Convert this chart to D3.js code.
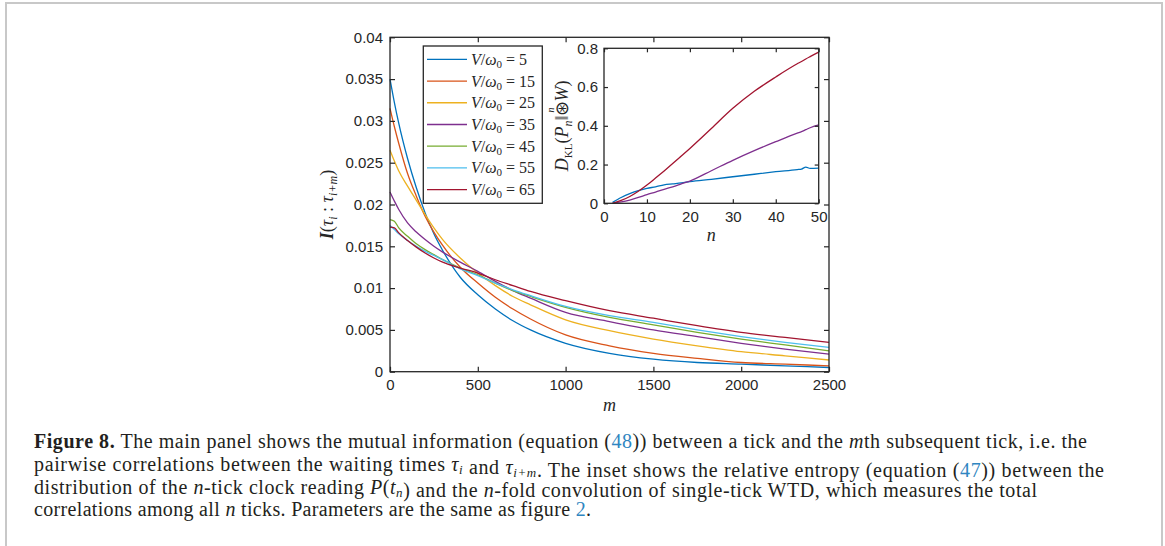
<!DOCTYPE html>
<html>
<head>
<meta charset="utf-8">
<script src="https://cdn.jsdelivr.net/npm/d3@7"></script>
<style>
  body { margin: 0; background: #fff; }
  svg { display: block; }
  .tick text { font-family: "Liberation Sans", Arial, sans-serif; font-size: 15px; fill: #262626; }
  .tick line { stroke: #262626; stroke-width: 1.2; }
</style>
</head>
<body>
<div id="chart"></div>
<script>
// main panel: mutual information vs m
const mValues = [0, 25, 50, 100, 150, 200, 250, 300, 400, 500, 600, 700, 800, 1000, 1250, 1500, 1750, 2000, 2250, 2500];
const seriesLabels = ['5', '15', '25', '35', '45', '55', '65'];
const seriesColors = ['#0072BD', '#D95319', '#EDB120', '#7E2F8E', '#77AC30', '#4DBEEE', '#A2142F'];
const miV5  = [0.0350, 0.0322, 0.0297, 0.0255, 0.0220, 0.0190, 0.0165, 0.0145, 0.0113, 0.0092, 0.0075, 0.0061, 0.0050, 0.0034, 0.0022, 0.0015, 0.0011, 0.0009, 0.0007, 0.0005];
const miV15 = [0.0315, 0.0293, 0.0273, 0.0237, 0.0210, 0.0186, 0.0167, 0.0151, 0.0125, 0.0106, 0.0089, 0.0075, 0.0063, 0.0044, 0.0031, 0.0022, 0.0016, 0.0011, 0.0009, 0.0007];
const miV25 = [0.0265, 0.0252, 0.0240, 0.0222, 0.0205, 0.0188, 0.0172, 0.0158, 0.0136, 0.0118, 0.0103, 0.0090, 0.0080, 0.0062, 0.0049, 0.0039, 0.0031, 0.0024, 0.0019, 0.0014];
const miV35 = [0.0215, 0.0204, 0.0194, 0.0178, 0.0167, 0.0158, 0.0150, 0.0143, 0.0131, 0.0120, 0.0108, 0.0097, 0.0088, 0.0071, 0.0060, 0.0050, 0.0042, 0.0034, 0.0027, 0.0021];
const miV45 = [0.0182, 0.0180, 0.0172, 0.0162, 0.0153, 0.0146, 0.0140, 0.0134, 0.0124, 0.0116, 0.0106, 0.0097, 0.0090, 0.0077, 0.0065, 0.0056, 0.0047, 0.0039, 0.0032, 0.0025];
const miV55 = [0.0175, 0.0170, 0.0165, 0.0157, 0.0150, 0.0144, 0.0139, 0.0134, 0.0123, 0.0115, 0.0106, 0.0098, 0.0091, 0.0078, 0.0067, 0.0059, 0.0050, 0.0042, 0.0035, 0.0029];
const miV65 = [0.0173, 0.0172, 0.0166, 0.0157, 0.0149, 0.0142, 0.0136, 0.0131, 0.0124, 0.0118, 0.0110, 0.0103, 0.0096, 0.0085, 0.0073, 0.0064, 0.0055, 0.0047, 0.0041, 0.0035];
const mainSeries = [miV5, miV15, miV25, miV35, miV45, miV55, miV65];
const mainXTicks = [0, 500, 1000, 1500, 2000, 2500];
const mainYTicks = [0, 0.005, 0.01, 0.015, 0.02, 0.025, 0.03, 0.035, 0.04];

// inset: relative entropy vs n (V/w0 = 5, 35, 65)
const nValues = [2, 4, 6, 8, 10, 12, 14, 16, 18, 20, 25, 30, 35, 40, 45, 46, 47, 48, 50];
const dklV5  = [0.005, 0.030, 0.050, 0.065, 0.077, 0.085, 0.095, 0.100, 0.105, 0.112, 0.124, 0.137, 0.150, 0.163, 0.174, 0.177, 0.187, 0.180, 0.182];
const dklV35 = [0.000, 0.007, 0.017, 0.030, 0.045, 0.058, 0.072, 0.085, 0.100, 0.115, 0.168, 0.222, 0.272, 0.318, 0.362, 0.370, 0.380, 0.390, 0.405];
const dklV65 = [0.000, 0.015, 0.035, 0.062, 0.094, 0.130, 0.167, 0.205, 0.244, 0.283, 0.386, 0.490, 0.578, 0.652, 0.720, 0.732, 0.745, 0.757, 0.780];
const insetSeries = [dklV5, dklV35, dklV65];
const insetColors = ['#0072BD', '#7E2F8E', '#A2142F'];
const insetXTicks = [0, 10, 20, 30, 40, 50];
const insetYTicks = [0, 0.2, 0.4, 0.6, 0.8];

const W = 1165, H = 546;
const axisColor = '#262626';
const serif = '"Liberation Serif", "Times New Roman", serif';

const svg = d3.select('#chart').append('svg').attr('width', W).attr('height', H);
svg.append('rect').attr('width', W).attr('height', H).attr('fill', '#fff');

// light frame around the figure
svg.append('path')
  .attr('d', `M6,${H} V3 H1162 V${H}`)
  .attr('fill', 'none').attr('stroke', '#c8c8c8').attr('stroke-width', 2);

// ---------- main panel ----------
const x = d3.scaleLinear().domain([0, 2500]).range([390, 829]);
const y = d3.scaleLinear().domain([0, 0.04]).range([371.7, 37.3]);
const fmtMain = d => d === 0 ? '0' : String(+d.toFixed(3));

const main = svg.append('g');

const line = d3.line().x(d => x(d[0])).y(d => y(d[1])).curve(d3.curveMonotoneX);
mainSeries.forEach((vals, i) => {
  main.append('path')
    .datum(mValues.map((m, k) => [m, vals[k]]))
    .attr('d', line)
    .attr('fill', 'none')
    .attr('stroke', seriesColors[i])
    .attr('stroke-width', 1.3);
});

function styleAxis(g) {
  g.select('.domain').remove();
}
main.append('g').attr('transform', `translate(0,${y(0)})`)
  .call(d3.axisBottom(x).tickValues(mainXTicks).tickFormat(d3.format('d')).tickSizeInner(-5).tickSizeOuter(0).tickPadding(8))
  .call(styleAxis);
main.append('g').attr('transform', `translate(0,${y(0.04)})`)
  .call(d3.axisTop(x).tickValues(mainXTicks).tickFormat('').tickSizeInner(-5).tickSizeOuter(0))
  .call(styleAxis);
main.append('g').attr('transform', `translate(${x(0)},0)`)
  .call(d3.axisLeft(y).tickValues(mainYTicks).tickFormat(fmtMain).tickSizeInner(-5).tickSizeOuter(0).tickPadding(7))
  .call(styleAxis);
main.append('g').attr('transform', `translate(${x(2500)},0)`)
  .call(d3.axisRight(y).tickValues(mainYTicks).tickFormat('').tickSizeInner(-5).tickSizeOuter(0))
  .call(styleAxis);
main.append('rect')
  .attr('x', x(0)).attr('y', y(0.04))
  .attr('width', x(2500) - x(0)).attr('height', y(0) - y(0.04))
  .attr('fill', 'none').attr('stroke', axisColor).attr('stroke-width', 1.3);

// axis labels
main.append('text')
  .attr('x', (x(0) + x(2500)) / 2).attr('y', 411)
  .attr('text-anchor', 'middle')
  .style('font-family', serif).style('font-style', 'italic').style('font-size', '18px')
  .attr('fill', axisColor).text('m');

const yl = main.append('text')
  .attr('transform', `translate(333,${(y(0) + y(0.04)) / 2}) rotate(-90)`)
  .attr('text-anchor', 'middle')
  .style('font-family', serif).style('font-size', '18px').attr('fill', axisColor);
yl.append('tspan').style('font-style', 'italic').style('font-weight', 'bold').text('I');
yl.append('tspan').text('(');
yl.append('tspan').style('font-style', 'italic').text('τ');
yl.append('tspan').attr('dy', 4).style('font-size', '12px').style('font-style', 'italic').text('i');
yl.append('tspan').attr('dy', -4).text(' : ');
yl.append('tspan').style('font-style', 'italic').text('τ');
yl.append('tspan').attr('dy', 4).style('font-size', '12px').style('font-style', 'italic').text('i+m');
yl.append('tspan').attr('dy', -4).text(')');

// legend
const legend = main.append('g');
legend.append('rect')
  .attr('x', 423.3).attr('y', 46).attr('width', 119).attr('height', 157.3)
  .attr('fill', '#fff').attr('stroke', axisColor).attr('stroke-width', 1.3);
seriesLabels.forEach((lab, i) => {
  const ry = 59.3 + i * 21.73;
  legend.append('line')
    .attr('x1', 427).attr('x2', 467).attr('y1', ry).attr('y2', ry)
    .attr('stroke', seriesColors[i]).attr('stroke-width', 1.3);
  const t = legend.append('text')
    .attr('x', 471).attr('y', ry + 5.5)
    .style('font-family', serif).style('font-size', '16px').attr('fill', axisColor);
  t.append('tspan').style('font-style', 'italic').text('V');
  t.append('tspan').text('/');
  t.append('tspan').style('font-style', 'italic').text('ω');
  t.append('tspan').attr('dy', 3).style('font-size', '11px').text('0');
  t.append('tspan').attr('dy', -3).text(' = ' + lab);
});

// ---------- inset ----------
const xi = d3.scaleLinear().domain([0, 50]).range([604, 818.7]);
const yi = d3.scaleLinear().domain([0, 0.8]).range([203.3, 48.3]);
const inset = svg.append('g');

inset.append('rect')
  .attr('x', xi(0)).attr('y', yi(0.8))
  .attr('width', xi(50) - xi(0)).attr('height', yi(0) - yi(0.8))
  .attr('fill', '#fff');

const lineI = d3.line().x(d => xi(d[0])).y(d => yi(d[1])).curve(d3.curveMonotoneX);
insetSeries.forEach((vals, i) => {
  inset.append('path')
    .datum(nValues.map((n, k) => [n, vals[k]]))
    .attr('d', lineI)
    .attr('fill', 'none')
    .attr('stroke', insetColors[i])
    .attr('stroke-width', 1.3);
});

inset.append('g').attr('transform', `translate(0,${yi(0)})`)
  .call(d3.axisBottom(xi).tickValues(insetXTicks).tickFormat(d3.format('d')).tickSizeInner(-4).tickSizeOuter(0).tickPadding(8))
  .call(styleAxis);
inset.append('g').attr('transform', `translate(0,${yi(0.8)})`)
  .call(d3.axisTop(xi).tickValues(insetXTicks).tickFormat('').tickSizeInner(-4).tickSizeOuter(0))
  .call(styleAxis);
inset.append('g').attr('transform', `translate(${xi(0)},0)`)
  .call(d3.axisLeft(yi).tickValues(insetYTicks).tickFormat(d => d === 0 ? '0' : d3.format('.1f')(d)).tickSizeInner(-4).tickSizeOuter(0).tickPadding(6))
  .call(styleAxis);
inset.append('g').attr('transform', `translate(${xi(50)},0)`)
  .call(d3.axisRight(yi).tickValues(insetYTicks).tickFormat('').tickSizeInner(-4).tickSizeOuter(0))
  .call(styleAxis);
inset.append('rect')
  .attr('x', xi(0)).attr('y', yi(0.8))
  .attr('width', xi(50) - xi(0)).attr('height', yi(0) - yi(0.8))
  .attr('fill', 'none').attr('stroke', axisColor).attr('stroke-width', 1.3);

inset.append('text')
  .attr('x', (xi(0) + xi(50)) / 2).attr('y', 241)
  .attr('text-anchor', 'middle')
  .style('font-family', serif).style('font-style', 'italic').style('font-size', '18px')
  .attr('fill', axisColor).text('n');

const il = inset.append('text')
  .attr('transform', `translate(568,${(yi(0) + yi(0.8)) / 2}) rotate(-90)`)
  .attr('text-anchor', 'middle')
  .style('font-family', serif).style('font-size', '18px').attr('fill', axisColor);
il.append('tspan').style('font-style', 'italic').text('D');
il.append('tspan').attr('dy', 4).style('font-size', '11px').text('KL');
il.append('tspan').attr('dy', -4).text('(');
il.append('tspan').style('font-style', 'italic').text('P');
il.append('tspan').attr('dy', 4).style('font-size', '12px').style('font-style', 'italic').text('n');
il.append('tspan').attr('dy', -4).text('‖');
il.append('tspan').attr('dy', -14).attr('dx', 3).style('font-size', '10px').style('font-style', 'italic').text('n');
il.append('tspan').attr('dy', 14).attr('dx', -9).text('⊛');
il.append('tspan').style('font-style', 'italic').text('W');
il.append('tspan').text(')');

// ---------- caption ----------
const captionLines = [
  [['Figure 8.', 'b'], [' The main panel shows the mutual information (equation ('], ['48', 'a'], [')) between a tick and the '], ['m', 'i'], ['th subsequent tick, i.e. the']],
  [['pairwise correlations between the waiting times '], ['τ', 'i'], ['i', 'sub'], [' and '], ['τ', 'i'], ['i+m', 'sub'], ['. The inset shows the relative entropy (equation ('], ['47', 'a'], [')) between the']],
  [['distribution of the '], ['n', 'i'], ['-tick clock reading '], ['P', 'i'], ['('], ['t', 'i'], ['n', 'sub'], [') and the '], ['n', 'i'], ['-fold convolution of single-tick WTD, which measures the total']],
  [['correlations among all '], ['n', 'i'], [' ticks. Parameters are the same as figure '], ['2', 'a'], ['.']]
];
const captionWidths = [1053, 1070, 1003, 557];
const caption = svg.append('g')
  .style('font-family', serif).style('font-size', '20px').attr('fill', '#231f20');
captionLines.forEach((segs, li) => {
  const t = caption.append('text')
    .attr('x', 34).attr('y', 448 + li * 22.8)
    .attr('textLength', captionWidths[li]).attr('lengthAdjust', 'spacing');
  segs.forEach(([txt, kind]) => {
    if (kind === 'sub') {
      t.append('tspan').attr('dy', 3).style('font-size', '13px').style('font-style', 'italic').text(txt);
      t.append('tspan').attr('dy', -3).text('');
      return;
    }
    const s = t.append('tspan').text(txt);
    if (kind === 'b') s.style('font-weight', 'bold');
    if (kind === 'i') s.style('font-style', 'italic');
    if (kind === 'a') s.attr('fill', '#2f86c1');
  });
});
</script>
</body>
</html>
